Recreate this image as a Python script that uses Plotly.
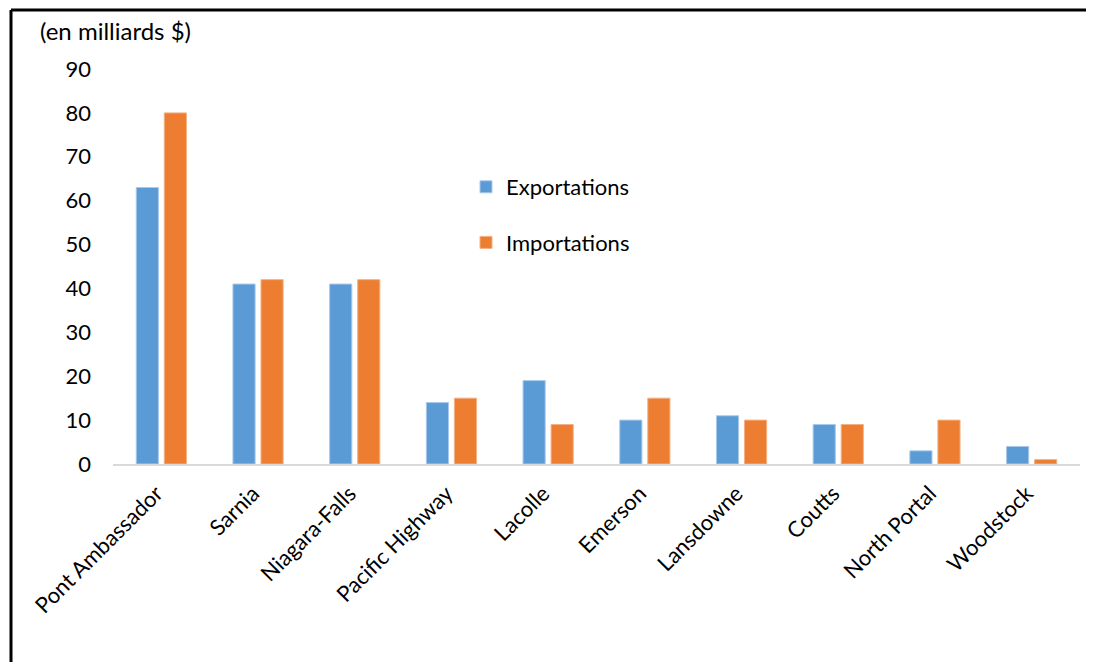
import plotly.graph_objects as go

categories = ["Pont Ambassador", "Sarnia", "Niagara-Falls", "Pacific Highway", "Lacolle",
              "Emerson", "Lansdowne", "Coutts", "North Portal", "Woodstock"]
exportations = [63, 41, 41, 14, 19, 10, 11, 9, 3, 4]
importations = [80, 42, 42, 15, 9, 15, 10, 9, 10, 1]
y_ticks = [0, 10, 20, 30, 40, 50, 60, 70, 80, 90]

# page body has an 8px margin; work in reference-pixel coordinates and shift
OFF = 8
W, H = 1094 - OFF, 662 - OFF
PL, PR, PT, PB = 113, 1080, 69, 464  # plot area in reference pixels
L, R, T, B = PL - OFF, W - (PR - OFF), PT - OFF, H - (PB - OFF)
pw, ph = PR - PL, PB - PT

def px(x):
    return (x - PL) / pw

def py(y):
    return (PB - y) / ph

FONT = "Lato"
FS = 22

fig = go.Figure()
fig.add_trace(go.Bar(x=categories, y=exportations, name="Exportations",
                     marker=dict(color="#5B9BD5", line=dict(color="#A9C9EA", width=1)),
                     legendgroup="a"))
fig.add_trace(go.Bar(x=categories, y=importations, name="Importations",
                     marker=dict(color="#ED7D31", line=dict(color="#F4B183", width=1)),
                     legendgroup="b"))

fig.update_layout(
    width=W, height=H,
    margin=dict(l=L, r=R, t=T, b=B, autoexpand=False),
    paper_bgcolor="white", plot_bgcolor="white",
    font=dict(family=FONT, size=FS, color="#000000"),
    barmode="group", bargap=0.42, bargroupgap=0.21,
    showlegend=True,
    legend=dict(x=px(466), y=py(166), xanchor="left", yanchor="top",
                font=dict(family=FONT, size=FS), tracegroupgap=24,
                bgcolor="rgba(0,0,0,0)"),
    xaxis=dict(type="category", tickangle=-45, showgrid=False, showline=True,
               linecolor="#D9D9D9", linewidth=2, ticks="", tickfont=dict(size=FS),
               zeroline=False, ticklabelstandoff=6, ticklabelshift=-5),
    yaxis=dict(range=[0, 90], tickvals=y_ticks, showgrid=False, zeroline=False,
               showline=False, ticks="", ticklabelstandoff=21, tickfont=dict(size=FS)),
)

fig.add_annotation(text="(en milliards $)", xref="paper", yref="paper",
                   x=px(38), y=py(31), xanchor="left", yanchor="middle",
                   showarrow=False, font=dict(family=FONT, size=24))

# frame lines (left and top)
fig.add_shape(type="line", xref="paper", yref="paper",
              x0=px(11), x1=px(11), y0=py(700), y1=py(10),
              line=dict(color="black", width=3))
fig.add_shape(type="line", xref="paper", yref="paper",
              x0=px(11), x1=px(1100), y0=py(10), y1=py(10),
              line=dict(color="black", width=3))

fig.write_html("out.html")
